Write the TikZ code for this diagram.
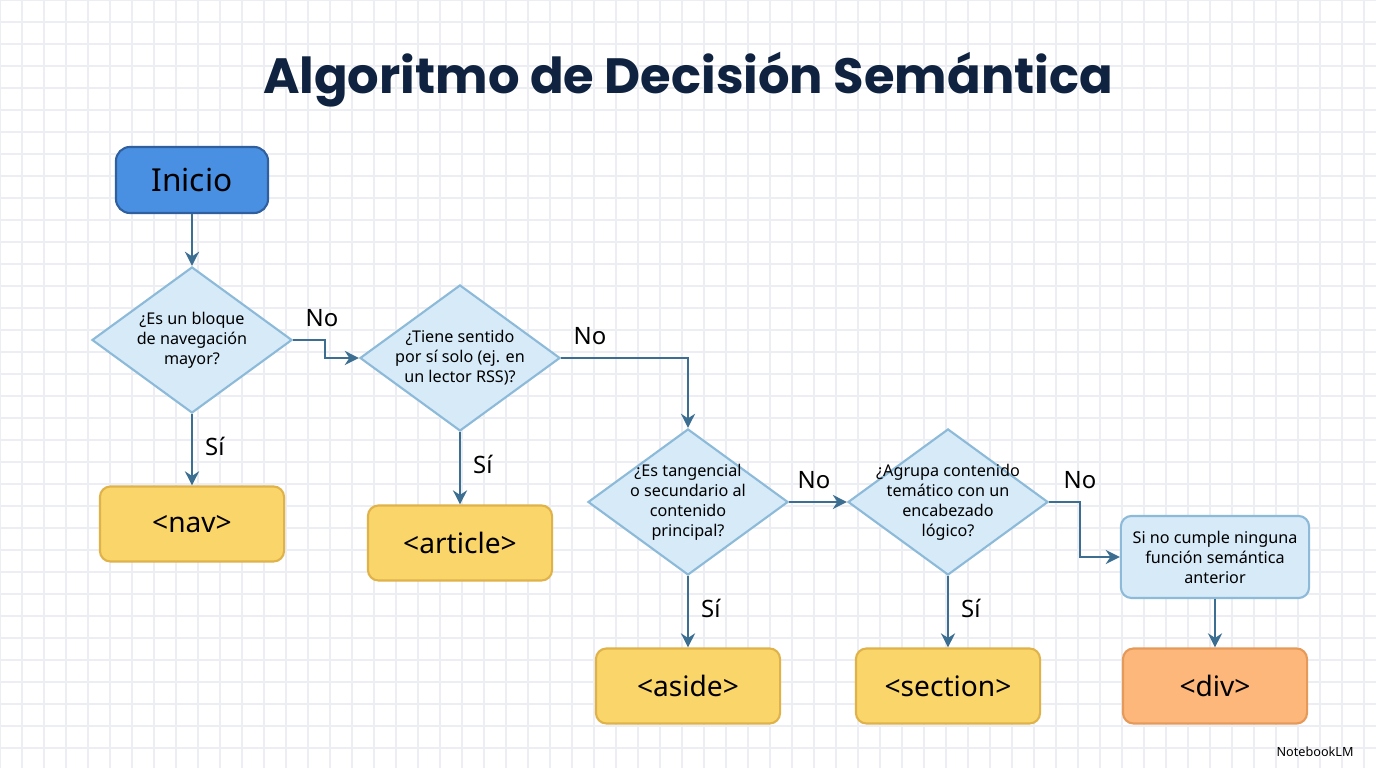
\documentclass[tikz,border=0pt]{standalone}
\usepackage{fontspec}
\setmainfont{Noto Sans}
\newfontfamily\titlefont{Poppins}
\usetikzlibrary{shapes.geometric,arrows.meta}
\definecolor{gridc}{HTML}{ECEEF3}
\definecolor{navy}{HTML}{0F2340}
\definecolor{startfill}{HTML}{4A90E2}
\definecolor{startline}{HTML}{2F5F9E}
\definecolor{qfill}{HTML}{D6EAF8}
\definecolor{qline}{HTML}{8CBAD8}
\definecolor{tagfill}{HTML}{FAD56A}
\definecolor{tagline}{HTML}{E0B24A}
\definecolor{divfill}{HTML}{FDB77A}
\definecolor{divline}{HTML}{E59A5A}
\definecolor{arr}{HTML}{3C6E91}
\begin{document}
\begin{tikzpicture}[x=0.01cm,y=-0.01cm]
\tikzstyle{inicio} = [rectangle, rounded corners=4pt, draw=startline, fill=startfill, line width=0.6pt, minimum width=1.52cm, minimum height=0.66cm, font=\fontsize{9}{10}\selectfont] % nodo de inicio
\tikzstyle{pregunta} = [diamond, draw=qline, fill=qfill, line width=0.6pt, minimum width=2cm, minimum height=1.46cm, inner sep=0pt] % nodo de decision
\tikzstyle{texto} = [align=center, font=\fontsize{4.6}{5.7}\selectfont] % texto dentro del rombo
\tikzstyle{etiqueta} = [rectangle, rounded corners=3pt, draw=tagline, fill=tagfill, line width=0.6pt, minimum width=1.84cm, minimum height=0.75cm, font=\fontsize{8}{9}\selectfont] % elemento html
\tikzstyle{flecha} = [draw=arr, line width=0.8pt, -{Stealth[length=4pt,width=4pt]}]
\tikzstyle{resp} = [font=\fontsize{6.8}{8}\selectfont, text=black]
% fondo cuadriculado
\fill[white] (0,0) rectangle (1376,768);
\useasboundingbox (0,0) rectangle (1376,768);
\foreach \gx in {0,22,...,1376} \draw[gridc, line width=0.3pt] (\gx,0) -- (\gx,768);
\foreach \gy in {0,22,...,768} \draw[gridc, line width=0.3pt] (0,\gy) -- (1376,\gy);
\node[font=\titlefont\bfseries\fontsize{14.1}{16}\selectfont, text=navy] (titulo) at (688,80) {Algoritmo de Decisión Semántica};
\node[inicio] (inicio) at (192,180) {Inicio};
\node[pregunta, label={[texto]center:{¿Es un bloque\\de navegación\\mayor?}}] (q1) at (192,340) {};
\node[etiqueta] (nav) at (192,524) {<nav>};
\node[pregunta, label={[texto]center:{¿Tiene sentido\\por sí solo (ej. en\\un lector RSS)?}}] (q2) at (460,358) {};
\node[etiqueta] (article) at (460,543) {<article>};
\node[pregunta, label={[texto]center:{¿Es tangencial\\o secundario al\\contenido\\principal?}}] (q3) at (688,502) {};
\node[etiqueta] (aside) at (688,686) {<aside>};
\node[pregunta, label={[texto]center:{¿Agrupa contenido\\temático con un\\encabezado\\lógico?}}] (q4) at (948,502) {};
\node[etiqueta] (section) at (948,686) {<section>};
\node[rectangle, rounded corners=3pt, draw=qline, fill=qfill, line width=0.6pt, minimum width=1.82cm, minimum height=0.82cm, texto] (resto) at (1215,557) {Si no cumple ninguna\\función semántica\\anterior};
\node[etiqueta, draw=divline, fill=divfill] (div) at (1215,686) {<div>};
% conectores
\draw[flecha] (inicio) -- (q1);
\draw[flecha] (q1) -- node[resp, right, pos=0.45] {Sí} (nav);
\draw[flecha] (q1.east) -- (325,340) |- (q2.west);
\node[resp] (no1) at (322,318) {No};
\draw[flecha] (q2) -- node[resp, right, pos=0.45] {Sí} (article);
\draw[flecha] (q2.east) -| (q3.north);
\node[resp] (no2) at (590,336) {No};
\draw[flecha] (q3) -- node[resp, right, pos=0.45] {Sí} (aside);
\draw[flecha] (q3.east) -- (q4.west);
\node[resp] (no3) at (814,480) {No};
\draw[flecha] (q4) -- node[resp, right, pos=0.45] {Sí} (section);
\draw[flecha] (q4.east) -- (1080,502) |- (resto.west);
\node[resp] (no4) at (1080,480) {No};
\draw[flecha] (resto) -- (div);
\node[font=\fontsize{3.6}{4}\selectfont, anchor=east] (marca) at (1366,752) {NotebookLM};
\end{tikzpicture}
\end{document}
